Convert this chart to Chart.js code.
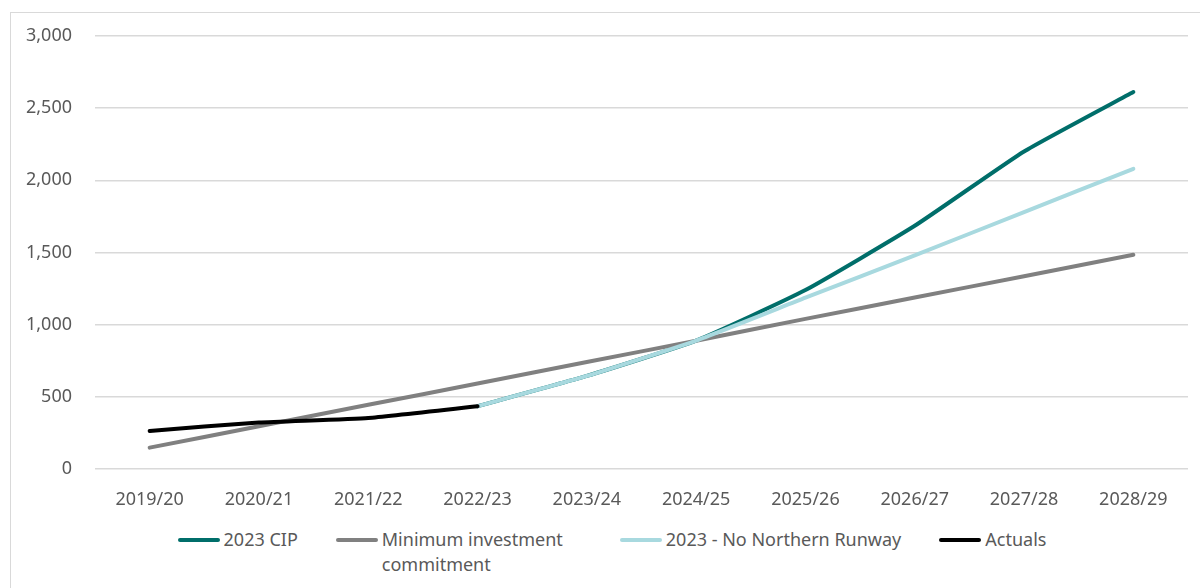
<!DOCTYPE html>
<html>
<head>
<meta charset="utf-8">
<script src="https://cdn.jsdelivr.net/npm/chart.js@4/dist/chart.umd.min.js"></script>
<style>
  body {
    margin: 0;
    background: #fff;
    font-family: "Noto Sans", "Open Sans", sans-serif;
  }
  .frame {
    position: absolute;
    left: 10px;
    top: 12px;
    width: 1220px;
    height: 620px;
    border: 1px solid #d9d9d9;
  }
  .chart-box {
    position: absolute;
    left: 0;
    top: 0;
    width: 1200px;
    height: 519px;
  }
  .legend {
    position: absolute;
    left: 0;
    top: 527px;
    width: 1224px;
    display: flex;
    justify-content: center;
    gap: 38px;
    color: #595959;
    font-size: 18px;
    line-height: 25px;
  }
  .legend-item {
    display: flex;
    align-items: flex-start;
  }
  .legend-item .swatch {
    width: 42px;
    height: 4px;
    border-radius: 2px;
    margin-top: 11px;
    margin-right: 4px;
    flex: none;
  }
  .legend-item.wrap .label {
    width: 200px;
  }
</style>
</head>
<body>
<div class="frame"></div>
<div class="chart-box"><canvas id="cip-chart"></canvas></div>
<div class="legend" id="legend"></div>

<script>
let years = ["2019/20", "2020/21", "2021/22", "2022/23", "2023/24",
             "2024/25", "2025/26", "2026/27", "2027/28", "2028/29"];

let cip2023 = [null, null, null, 435, 645, 890, 1240, 1685, 2200, 2612];
let minCommitment = [148, 296, 445, 592, 741, 889, 1040, 1188, 1336, 1484];
let noNorthernRunway = [null, null, null, 435, 645, 890, 1187, 1480, 1780, 2080];
let actuals = [264, 322, 354, 435, null, null, null, null, null, null];

let yTicks = [0, 500, 1000, 1500, 2000, 2500, 3000];

let textColour = "#595959";
let gridColour = "#d9d9d9";

function makeLine(label, data, colour, order) {
  return {
    label: label,
    data: data,
    borderColor: colour,
    backgroundColor: colour,
    borderWidth: 4,
    borderCapStyle: "round",
    borderJoinStyle: "round",
    pointRadius: 0,
    pointHoverRadius: 0,
    tension: 0.15,
    spanGaps: false,
    order: order,
  };
}

let chart = new Chart(document.getElementById("cip-chart"), {
  type: "line",
  data: {
    labels: years,
    datasets: [
      makeLine("2023 CIP", cip2023, "#006e6a", 4),
      makeLine(["Minimum investment", "commitment"], minCommitment, "#808080", 3),
      makeLine("2023 - No Northern Runway", noNorthernRunway, "#a8d9df", 2),
      makeLine("Actuals", actuals, "#000000", 1),
    ],
  },
  options: {
    responsive: true,
    maintainAspectRatio: false,
    animation: false,
    layout: {
      padding: { top: 36, right: 12, bottom: 0, left: 0 },
    },
    plugins: {
      legend: { display: false },
      tooltip: { enabled: false },
    },
    scales: {
      x: {
        offset: true,
        grid: { display: false },
        border: { display: false },
        ticks: {
          color: textColour,
          font: { family: "Noto Sans", size: 18 },
          padding: 12,
          maxRotation: 0,
        },
        afterFit: (scale) => {
          scale.height = 50;
        },
      },
      y: {
        min: 0,
        max: 3000,
        afterBuildTicks: (scale) => {
          scale.ticks = yTicks.map((v) => ({ value: v }));
        },
        grid: {
          color: gridColour,
          lineWidth: 1.5,
          drawTicks: false,
        },
        border: { display: false },
        ticks: {
          color: textColour,
          font: { family: "Noto Sans", size: 18 },
          padding: 23,
          callback: (v) => v.toLocaleString("en-US"),
        },
        afterFit: (scale) => {
          scale.width = 95;
        },
      },
    },
  },
});

// legend drawn as html so the long label can wrap onto two lines
let legendBox = document.getElementById("legend");
chart.data.datasets.forEach((ds) => {
  let item = document.createElement("div");
  let multi = Array.isArray(ds.label);
  item.className = multi ? "legend-item wrap" : "legend-item";
  let text = multi ? ds.label.join(" ") : ds.label;
  item.innerHTML = `<span class="swatch" style="background:${ds.borderColor}"></span><span class="label">${text}</span>`;
  legendBox.appendChild(item);
});
</script>
</body>
</html>
